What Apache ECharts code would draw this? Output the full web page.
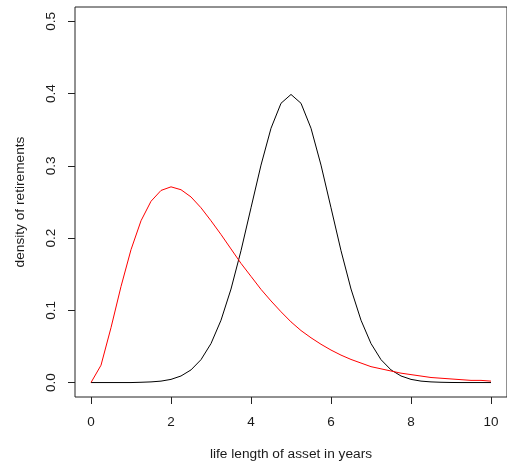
<!DOCTYPE html>
<html>
<head>
<meta charset="utf-8">
<script src="https://cdn.jsdelivr.net/npm/echarts@6/dist/echarts.min.js"></script>
<style>
    html, body { margin: 0; padding: 0; background: #fff; }
    #chart { width: 507px; height: 468px; }
</style>
</head>
<body>
<div id="chart"></div>
<script>
    // years on the x axis (step 0.25)
    var lifeYears = [0, 0.25, 0.5, 0.75, 1, 1.25, 1.5, 1.75, 2, 2.25, 2.5, 2.75, 3, 3.25, 3.5, 3.75,
        4, 4.25, 4.5, 4.75, 5, 5.25, 5.5, 5.75, 6, 6.25, 6.5, 6.75, 7, 7.25, 7.5, 7.75,
        8, 8.25, 8.5, 8.75, 9, 9.25, 9.5, 9.75, 10];

    // red curve, skewed, peak near 2 years
    var redDensity = [0, 0.024, 0.076, 0.133, 0.184, 0.224, 0.251, 0.266, 0.271, 0.267, 0.257, 0.242,
        0.224, 0.205, 0.185, 0.165, 0.147, 0.129, 0.113, 0.098, 0.084, 0.072, 0.062, 0.053,
        0.045, 0.038, 0.032, 0.027, 0.022, 0.019, 0.016, 0.013, 0.011, 0.009, 0.007, 0.006,
        0.005, 0.004, 0.003, 0.003, 0.002];

    // black curve, symmetric, peak at 5 years
    var blackDensity = [0, 0, 0, 0, 0, 0.0004, 0.0009, 0.002, 0.0044, 0.0091, 0.0175, 0.0317,
        0.054, 0.0863, 0.1295, 0.1826, 0.242, 0.3011, 0.3521, 0.3867, 0.3989, 0.3867, 0.3521, 0.3011,
        0.242, 0.1826, 0.1295, 0.0863, 0.054, 0.0317, 0.0175, 0.0091, 0.0044, 0.002, 0.0009, 0.0004,
        0.0001, 0, 0, 0, 0];

    var xTicks = [0, 2, 4, 6, 8, 10];
    var yTicks = [0, 0.1, 0.2, 0.3, 0.4, 0.5];

    function pairs(ys) {
        var out = [];
        for (var i = 0; i < lifeYears.length; i++) {
            out.push([lifeYears[i], ys[i]]);
        }
        return out;
    }

    var txt = '#1a1a1a';
    var fnt = 'Liberation Sans, Arial, sans-serif';

    var chart = echarts.init(document.getElementById('chart'));
    var option = {
        animation: false,
        backgroundColor: '#fff',
        grid: {
            show: true,
            left: 75,
            top: 7,
            width: 437,
            height: 390,
            borderColor: '#222',
            borderWidth: 1,
            backgroundColor: 'transparent'
        },
        xAxis: {
            type: 'value',
            min: -0.4,
            max: 10.4,
            name: 'life length of asset in years',
            nameLocation: 'middle',
            nameGap: 50,
            nameTextStyle: { color: txt, fontSize: 13.7, fontFamily: fnt },
            axisLine: { show: false, onZero: false },
            splitLine: { show: false },
            axisTick: {
                show: true,
                inside: false,
                length: 7,
                customValues: xTicks,
                lineStyle: { color: '#222', width: 1 }
            },
            axisLabel: {
                customValues: xTicks,
                margin: 18,
                color: txt,
                fontSize: 13.5,
                fontFamily: fnt
            }
        },
        yAxis: {
            type: 'value',
            min: -0.02,
            max: 0.52,
            name: 'density of retirements',
            nameLocation: 'middle',
            nameGap: 48,
            nameRotate: 90,
            nameTextStyle: { color: txt, fontSize: 13.7, fontFamily: fnt },
            axisLine: { show: false, onZero: false },
            splitLine: { show: false },
            axisTick: {
                show: true,
                inside: false,
                length: 7,
                customValues: yTicks,
                lineStyle: { color: '#222', width: 1 }
            },
            axisLabel: {
                customValues: yTicks,
                rotate: 90,
                margin: 17,
                color: txt,
                fontSize: 13.5,
                fontFamily: fnt,
                formatter: function (v) { return v.toFixed(1); }
            }
        },
        series: [
            {
                type: 'line',
                data: pairs(blackDensity),
                showSymbol: false,
                smooth: false,
                lineStyle: { color: '#000', width: 1 }
            },
            {
                type: 'line',
                data: pairs(redDensity),
                showSymbol: false,
                smooth: false,
                lineStyle: { color: '#ff0000', width: 1 }
            }
        ]
    };
    chart.setOption(option);
</script>
</body>
</html>
